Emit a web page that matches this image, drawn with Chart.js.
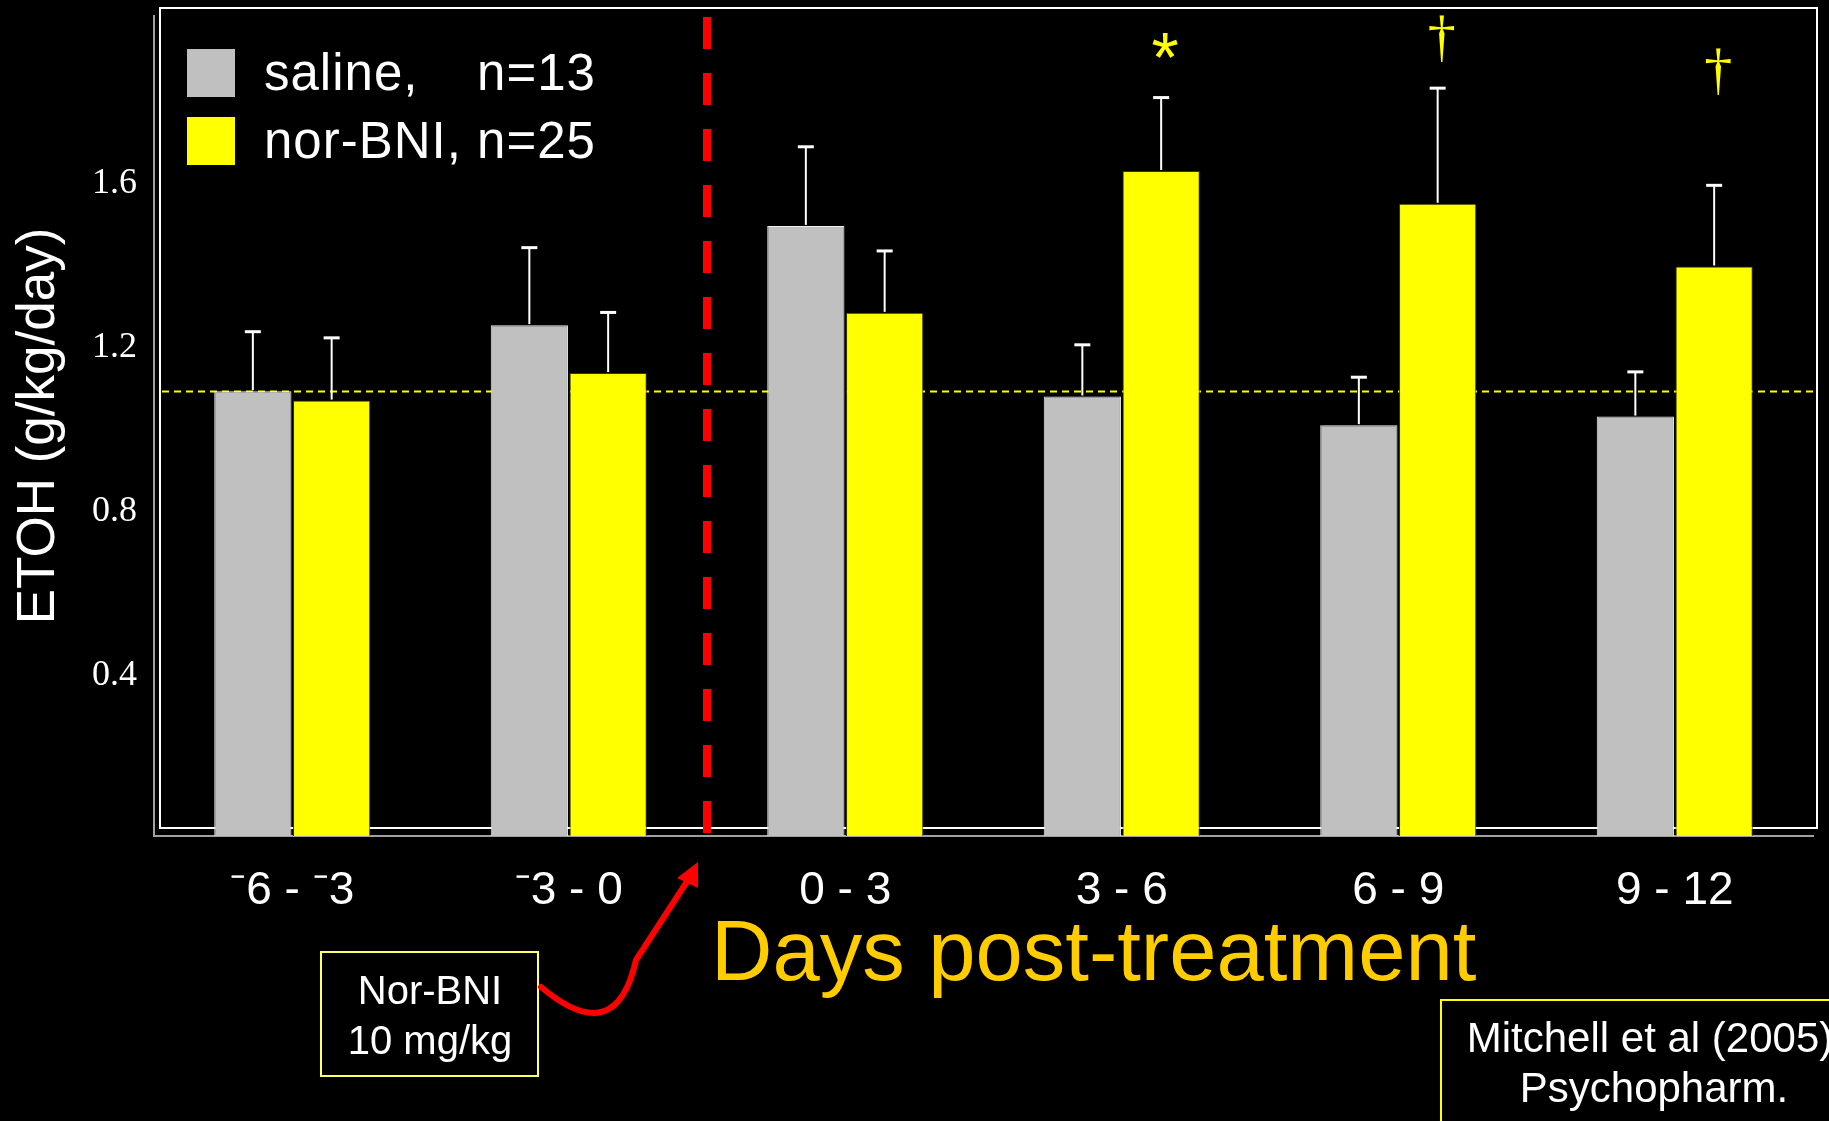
<!DOCTYPE html>
<html>
<head>
<meta charset="utf-8">
<script src="https://cdn.jsdelivr.net/npm/chart.js@4.4.1/dist/chart.umd.min.js"></script>
<style>
  html, body { margin: 0; padding: 0; background: #000; }
  #wrap { width: 1829px; height: 1121px; position: relative; }
</style>
</head>
<body>
<div id="wrap"><canvas id="etohChart"></canvas></div>
<script>
// Data (ETOH intake, g/kg/day)
const categories = ['\u207B6 - \u207B3', '\u207B3 - 0', '0 - 3', '3 - 6', '6 - 9', '9 - 12'];
const groupNames = ['saline,', 'nor-BNI,'];
const groupN = [13, 25];
const salineMeans = [1.085, 1.246, 1.488, 1.072, 1.002, 1.023];
const salineSEM = [0.145, 0.189, 0.193, 0.126, 0.117, 0.109];
const norBniMeans = [1.062, 1.129, 1.276, 1.622, 1.542, 1.389];
const norBniSEM = [0.153, 0.148, 0.151, 0.179, 0.282, 0.198];
const baselineLevel = 1.084;
const yTicks = [0.4, 0.8, 1.2, 1.6];
const sigMarks = ['', '', '', '*', '\u2020', '\u2020'];
const sigLevels = [null, null, null, 1.92, 1.94, 1.86];
const injectionAt = 1.5; // between -3-0 and 0-3

const errors = [salineSEM, norBniSEM];
const SANS = "'Liberation Sans', Arial, sans-serif";
const SERIF = "'Liberation Serif', 'Times New Roman', serif";

document.addEventListener('DOMContentLoaded', () => {
  const backdrop = {
    id: 'backdrop',
    beforeDraw(chart) {
      const ctx = chart.ctx;
      ctx.save();
      ctx.fillStyle = '#000';
      ctx.fillRect(0, 0, chart.width, chart.height);
      ctx.restore();
    },
    beforeDatasetsDraw(chart) {
      const { ctx, chartArea: a, scales } = chart;
      ctx.save();
      // white frame
      const fl = a.left + 6, ft = a.top - 8, fr = a.right + 4, fb = a.bottom - 8;
      ctx.strokeStyle = '#fff';
      ctx.lineWidth = 2;
      ctx.strokeRect(fl, ft, fr - fl, fb - ft);
      // baseline reference (dashed yellow)
      const by = scales.y.getPixelForValue(baselineLevel);
      ctx.strokeStyle = '#ffff00';
      ctx.lineWidth = 2;
      ctx.setLineDash([7, 5]);
      ctx.beginPath();
      ctx.moveTo(fl + 2, by);
      ctx.lineTo(fr, by);
      ctx.stroke();
      // injection (dashed red)
      const ix = scales.x.getPixelForValue(injectionAt);
      ctx.strokeStyle = '#ff0000';
      ctx.lineWidth = 8;
      ctx.setLineDash([32, 24]);
      ctx.beginPath();
      ctx.moveTo(ix, a.top + 1);
      ctx.lineTo(ix, a.bottom - 3);
      ctx.stroke();
      ctx.restore();
    },
    afterDatasetsDraw(chart) {
      const { ctx, scales } = chart;
      ctx.save();
      ctx.strokeStyle = '#fff';
      chart.data.datasets.forEach((ds, i) => {
        const meta = chart.getDatasetMeta(i);
        meta.data.forEach((bar, j) => {
          const topY = scales.y.getPixelForValue(ds.data[j] + errors[i][j]);
          ctx.lineWidth = 2;
          ctx.beginPath();
          ctx.moveTo(bar.x, bar.y - 1);
          ctx.lineTo(bar.x, topY);
          ctx.stroke();
          ctx.lineWidth = 3;
          ctx.beginPath();
          ctx.moveTo(bar.x - 8, topY);
          ctx.lineTo(bar.x + 8, topY);
          ctx.stroke();
        });
      });
      // significance marks above nor-BNI bars
      const yMeta = chart.getDatasetMeta(1);
      ctx.fillStyle = '#ffff00';
      ctx.textAlign = 'center';
      ctx.textBaseline = 'middle';
      sigMarks.forEach((m, j) => {
        if (!m) return;
        const y = scales.y.getPixelForValue(sigLevels[j]);
        ctx.font = m === '*' ? '70px ' + SANS : '56px ' + SERIF;
        ctx.fillText(m, yMeta.data[j].x + 4, m === '*' ? y + 14 : y);
      });
      ctx.restore();
    },
    afterDraw(chart) {
      const { ctx } = chart;
      ctx.save();
      // legend inside plot
      ctx.font = '51px ' + SANS;
      ctx.textBaseline = 'alphabetic';
      ctx.textAlign = 'left';
      if ('letterSpacing' in ctx) ctx.letterSpacing = '1px';
      const nameW = Math.max(...groupNames.map(n => ctx.measureText(n + ' ').width));
      chart.data.datasets.forEach((ds, i) => {
        const top = 49 + i * 68;
        ctx.fillStyle = ds.backgroundColor;
        ctx.fillRect(187, top, 48, 48);
        ctx.fillStyle = '#fff';
        ctx.fillText(groupNames[i], 264, top + 41);
        ctx.fillText('n=' + groupN[i], 264 + nameW, top + 41);
      });
      if ('letterSpacing' in ctx) ctx.letterSpacing = '0px';

      // y axis title
      ctx.save();
      ctx.translate(54, 426);
      ctx.rotate(-Math.PI / 2);
      ctx.font = '53px ' + SANS;
      ctx.textAlign = 'center';
      ctx.fillStyle = '#fff';
      ctx.fillText('ETOH (g/kg/day)', 0, 0);
      ctx.restore();

      // x axis title
      ctx.font = '85px ' + SANS;
      ctx.fillStyle = '#ffcc00';
      ctx.textAlign = 'left';
      ctx.fillText('Days post-treatment', 711, 980);

      // Nor-BNI box
      ctx.strokeStyle = '#ffff66';
      ctx.lineWidth = 2;
      ctx.strokeRect(321, 952, 217, 124);
      ctx.fillStyle = '#fff';
      ctx.font = '40px ' + SANS;
      ctx.textAlign = 'center';
      ctx.fillText('Nor-BNI', 430, 1004);
      ctx.fillText('10 mg/kg', 430, 1054);

      // red arrow
      ctx.strokeStyle = '#ff0000';
      ctx.fillStyle = '#ff0000';
      ctx.lineWidth = 6;
      ctx.lineCap = 'round';
      ctx.beginPath();
      ctx.moveTo(541, 987);
      ctx.quadraticCurveTo(616, 1050, 636, 960);
      ctx.lineTo(688, 880);
      ctx.stroke();
      ctx.beginPath();
      ctx.moveTo(698, 862);
      ctx.lineTo(698, 888);
      ctx.lineTo(677, 878);
      ctx.closePath();
      ctx.fill();

      // citation box
      ctx.strokeStyle = '#ffff00';
      ctx.lineWidth = 2;
      ctx.strokeRect(1441, 1000, 430, 160);
      ctx.fillStyle = '#fff';
      ctx.font = '42px ' + SANS;
      ctx.textAlign = 'center';
      ctx.fillText('Mitchell et al (2005)', 1650, 1052);
      ctx.fillText('Psychopharm.', 1654, 1102);
      ctx.restore();
    }
  };

  new Chart(document.getElementById('etohChart'), {
    type: 'bar',
    data: {
      labels: categories,
      datasets: [
        {
          label: 'saline',
          data: salineMeans,
          backgroundColor: '#c0c0c0',
          borderColor: '#eeeeee',
          borderWidth: 1
        },
        {
          label: 'nor-BNI',
          data: norBniMeans,
          backgroundColor: '#ffff00',
          borderColor: '#3a3a00',
          borderWidth: 1
        }
      ]
    },
    options: {
      responsive: true,
      maintainAspectRatio: false,
      animation: false,
      layout: { padding: { top: 16, right: 16, left: 0, bottom: 0 } },
      plugins: {
        legend: { display: false },
        tooltip: { enabled: false }
      },
      datasets: {
        bar: { categoryPercentage: 0.57, barPercentage: 0.98 }
      },
      scales: {
        x: {
          offset: true,
          grid: { display: false, drawTicks: false },
          border: { color: '#a0a0a0', width: 2 },
          ticks: {
            color: '#fff',
            font: { family: SANS, size: 46 },
            padding: 28,
            maxRotation: 0,
            autoSkip: false
          },
          afterFit: s => { s.height = 285; s.paddingLeft = 0; s.paddingRight = 0; }
        },
        y: {
          min: 0,
          max: 2.0,
          grid: { display: false, drawTicks: false },
          border: { color: '#a0a0a0', width: 2 },
          afterBuildTicks: s => { s.ticks = yTicks.map(v => ({ value: v })); },
          ticks: {
            color: '#fff',
            font: { family: SERIF, size: 36 },
            padding: 17,
            labelOffset: 4,
            callback: v => v.toFixed(1)
          },
          afterFit: s => { s.width = 154; s.paddingTop = 0; s.paddingBottom = 0; }
        }
      }
    },
    plugins: [backdrop]
  });
});
</script>
</body>
</html>
